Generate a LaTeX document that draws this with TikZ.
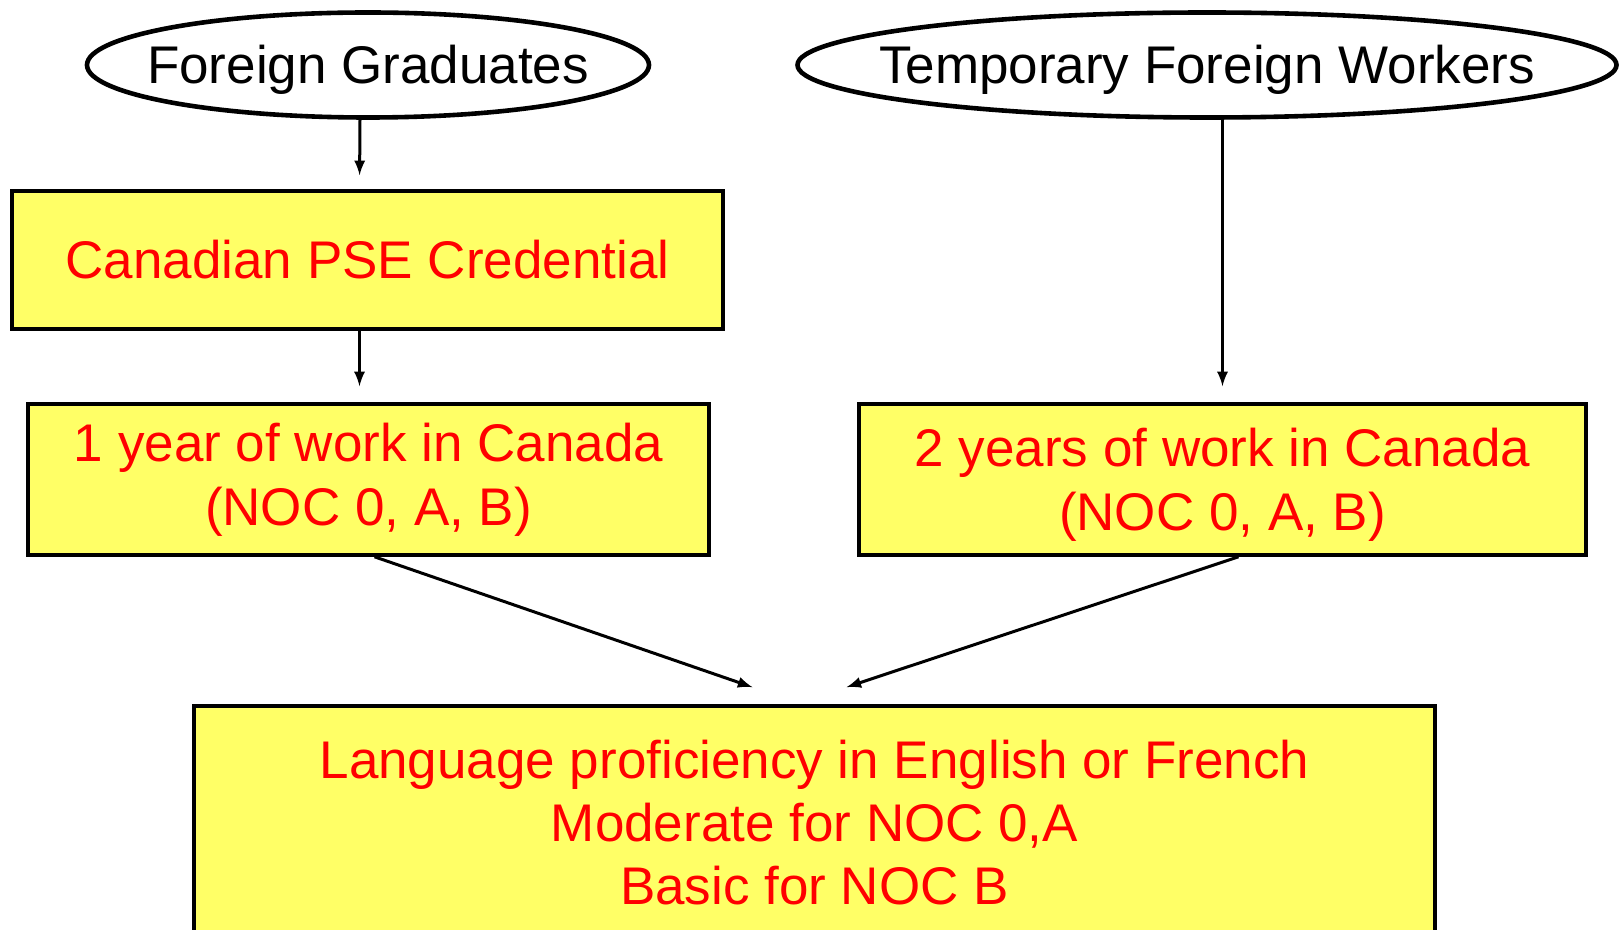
\documentclass[tikz,border=0pt]{standalone}
\usepackage{fontspec}
\setmainfont{Liberation Sans}
\usetikzlibrary{shapes.geometric}
\definecolor{boxyellow}{RGB}{255,255,102}

\begin{document}
\begin{tikzpicture}[x=0.5pt,y=-0.5pt,
  box/.style={draw,line width=1.8pt,fill=boxyellow,text=red,align=center,
    font=\fontsize{26.5}{32}\selectfont,inner sep=0pt},
  oval/.style={draw,ellipse,line width=2.3pt,minimum height=52.5pt,inner sep=0pt},
  label/.style={font=\fontsize{26.5}{32}\selectfont,inner sep=0pt},
  arr/.style={->,>=latex,line width=1.5pt}]
\useasboundingbox (0,0) rectangle (1623,930);
\clip (0,0) rectangle (1623,930);
% top ovals
\node [oval, minimum width=281pt] (fg) at (368,65) {};
\node [label] (fgtext) at (368,70) {Foreign Graduates};
\node [oval, minimum width=409.5pt] (tw) at (1207,65) {};
\node [label] (twtext) at (1207,70) {Temporary Foreign Workers};
% boxes
\node [box, minimum width=355.5pt, minimum height=69pt] (pse) at (367.5,260) {Canadian PSE Credential};
\node [box, minimum width=340.5pt, minimum height=75.5pt] (one) at (368.5,479.5) {1 year of work in Canada\\(NOC 0, A, B)};
\node [box, minimum width=363.5pt, minimum height=75.5pt, text depth=-6pt] (two) at (1222.5,479.5) {2 years of work in Canada\\(NOC 0, A, B)};
\node [box, minimum width=620.5pt, minimum height=117pt, font=\fontsize{26.5}{31.5}\selectfont] (lang) at (814.5,823) {Language proficiency in English or French\\Moderate for NOC 0,A\\Basic for NOC B};
% arrows
\draw [arr, shorten >=7pt] ([xshift=-4pt]fg.south) -- ([xshift=-4pt]pse.north);
\draw [arr, shorten >=8pt] ([xshift=-4pt]pse.south) -- ([xshift=-4.5pt]one.north);
\draw [arr, shorten >=8pt] (two.north |- tw.south) -- (two.north);
\draw [arr] ([xshift=3pt]one.south) -- ([xshift=-31pt,yshift=8.5pt]lang.north);
\draw [arr] ([xshift=8pt]two.south) -- ([xshift=16pt,yshift=8.5pt]lang.north);
\end{tikzpicture}
\end{document}
